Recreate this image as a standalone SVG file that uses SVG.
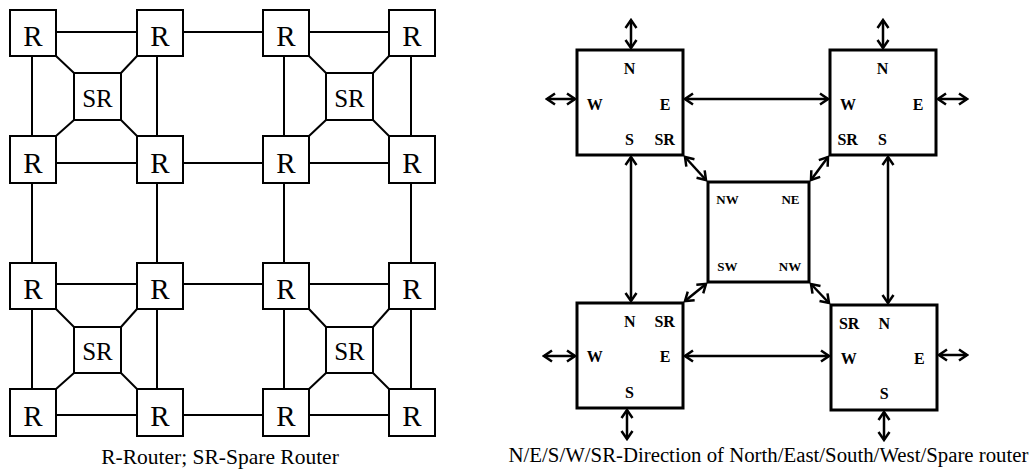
<svg xmlns="http://www.w3.org/2000/svg" width="1032" height="469" viewBox="0 0 1032 469">
<style>
.bg{fill:#fff}
.r{fill:#fff;stroke:#000;stroke-width:2}
.l{stroke:#000;stroke-width:2;fill:none}
.rt{font-family:"Liberation Serif","Times New Roman",serif;font-size:29px;text-anchor:middle;fill:#000}
.st{font-family:"Liberation Serif","Times New Roman",serif;font-size:25px;text-anchor:middle;fill:#000}
.cap{font-family:"Liberation Serif","Times New Roman",serif;font-size:21px;text-anchor:middle;fill:#000}
.b{fill:#fff;stroke:#000;stroke-width:3}
.a{stroke:#000;stroke-width:2.5;fill:none;marker-start:url(#ah);marker-end:url(#ah)}
.d{font-family:"Liberation Serif","Times New Roman",serif;font-size:16px;font-weight:bold;text-anchor:middle;fill:#000}
.dc{font-family:"Liberation Serif","Times New Roman",serif;font-size:13px;font-weight:bold;text-anchor:middle;fill:#000}
</style>
<defs>
<marker id="ah" markerUnits="userSpaceOnUse" viewBox="-12 -8 14 16" refX="0" refY="0" markerWidth="14" markerHeight="16" orient="auto-start-reverse">
<path d="M-8,-5.5 L0,0 L-8,5.5" fill="none" stroke="#000" stroke-width="2.5"/>
</marker>
</defs>
<rect class="bg" x="0" y="0" width="1032" height="469"/>

<g id="grid-connectors">
<line class="l" x1="56" y1="32" x2="137" y2="32"/>
<line class="l" x1="183" y1="32" x2="263" y2="32"/>
<line class="l" x1="309" y1="32" x2="389" y2="32"/>
<line class="l" x1="56" y1="163" x2="137" y2="163"/>
<line class="l" x1="183" y1="163" x2="263" y2="163"/>
<line class="l" x1="309" y1="163" x2="389" y2="163"/>
<line class="l" x1="56" y1="284" x2="137" y2="284"/>
<line class="l" x1="183" y1="284" x2="263" y2="284"/>
<line class="l" x1="309" y1="284" x2="389" y2="284"/>
<line class="l" x1="56" y1="415" x2="137" y2="415"/>
<line class="l" x1="183" y1="415" x2="263" y2="415"/>
<line class="l" x1="309" y1="415" x2="389" y2="415"/>
<line class="l" x1="32" y1="56" x2="32" y2="136"/>
<line class="l" x1="32" y1="183" x2="32" y2="263"/>
<line class="l" x1="32" y1="309" x2="32" y2="389"/>
<line class="l" x1="157" y1="56" x2="157" y2="136"/>
<line class="l" x1="157" y1="183" x2="157" y2="263"/>
<line class="l" x1="157" y1="309" x2="157" y2="389"/>
<line class="l" x1="284" y1="56" x2="284" y2="136"/>
<line class="l" x1="284" y1="183" x2="284" y2="263"/>
<line class="l" x1="284" y1="309" x2="284" y2="389"/>
<line class="l" x1="411" y1="56" x2="411" y2="136"/>
<line class="l" x1="411" y1="183" x2="411" y2="263"/>
<line class="l" x1="411" y1="309" x2="411" y2="389"/>
<line class="l" x1="56" y1="56" x2="74" y2="73"/>
<line class="l" x1="137" y1="56" x2="121" y2="73"/>
<line class="l" x1="56" y1="136" x2="74" y2="120"/>
<line class="l" x1="137" y1="136" x2="121" y2="120"/>
<line class="l" x1="309" y1="56" x2="326" y2="73"/>
<line class="l" x1="389" y1="56" x2="373" y2="73"/>
<line class="l" x1="309" y1="136" x2="326" y2="120"/>
<line class="l" x1="389" y1="136" x2="373" y2="120"/>
<line class="l" x1="56" y1="309" x2="74" y2="327"/>
<line class="l" x1="137" y1="309" x2="121" y2="327"/>
<line class="l" x1="56" y1="389" x2="74" y2="373"/>
<line class="l" x1="137" y1="389" x2="121" y2="373"/>
<line class="l" x1="309" y1="309" x2="326" y2="327"/>
<line class="l" x1="389" y1="309" x2="373" y2="327"/>
<line class="l" x1="309" y1="389" x2="326" y2="373"/>
<line class="l" x1="389" y1="389" x2="373" y2="373"/>
</g>

<g id="r11"><rect class="r" x="10" y="10" width="46" height="46"/><text class="rt" x="33" y="46">R</text></g>
<g id="r12"><rect class="r" x="137" y="10" width="46" height="46"/><text class="rt" x="160" y="46">R</text></g>
<g id="r13"><rect class="r" x="263" y="10" width="46" height="46"/><text class="rt" x="286" y="46">R</text></g>
<g id="r14"><rect class="r" x="389" y="10" width="46" height="46"/><text class="rt" x="412" y="46">R</text></g>
<g id="r21"><rect class="r" x="10" y="136" width="46" height="47"/><text class="rt" x="33" y="173">R</text></g>
<g id="r22"><rect class="r" x="137" y="136" width="46" height="47"/><text class="rt" x="160" y="173">R</text></g>
<g id="r23"><rect class="r" x="263" y="136" width="46" height="47"/><text class="rt" x="286" y="173">R</text></g>
<g id="r24"><rect class="r" x="389" y="136" width="46" height="47"/><text class="rt" x="412" y="173">R</text></g>
<g id="r31"><rect class="r" x="10" y="263" width="46" height="46"/><text class="rt" x="33" y="299">R</text></g>
<g id="r32"><rect class="r" x="137" y="263" width="46" height="46"/><text class="rt" x="160" y="299">R</text></g>
<g id="r33"><rect class="r" x="263" y="263" width="46" height="46"/><text class="rt" x="286" y="299">R</text></g>
<g id="r34"><rect class="r" x="389" y="263" width="46" height="46"/><text class="rt" x="412" y="299">R</text></g>
<g id="r41"><rect class="r" x="10" y="389" width="46" height="47"/><text class="rt" x="33" y="426">R</text></g>
<g id="r42"><rect class="r" x="137" y="389" width="46" height="47"/><text class="rt" x="160" y="426">R</text></g>
<g id="r43"><rect class="r" x="263" y="389" width="46" height="47"/><text class="rt" x="286" y="426">R</text></g>
<g id="r44"><rect class="r" x="389" y="389" width="46" height="47"/><text class="rt" x="412" y="426">R</text></g>

<g id="sr1"><rect class="r" x="74" y="73" width="47" height="47"/><text class="st" x="97.5" y="107">SR</text></g>
<g id="sr2"><rect class="r" x="326" y="73" width="47" height="47"/><text class="st" x="349.5" y="107">SR</text></g>
<g id="sr3"><rect class="r" x="74" y="327" width="47" height="46"/><text class="st" x="97.5" y="360">SR</text></g>
<g id="sr4"><rect class="r" x="326" y="327" width="47" height="46"/><text class="st" x="349.5" y="360">SR</text></g>

<text id="cap-left" class="cap" x="220" y="464" style="font-size:21.5px">R-Router; SR-Spare Router</text>

<g id="arrows">
<line class="a" x1="631" y1="20" x2="631" y2="48"/>
<line class="a" x1="547" y1="99" x2="575" y2="99"/>
<line class="a" x1="685" y1="99" x2="828" y2="99"/>
<line class="a" x1="631" y1="157" x2="631" y2="301"/>
<line class="a" x1="685" y1="157" x2="706" y2="180"/>
<line class="a" x1="883" y1="20" x2="883" y2="48"/>
<line class="a" x1="938" y1="99" x2="967" y2="99"/>
<line class="a" x1="888" y1="157" x2="888" y2="303"/>
<line class="a" x1="828" y1="157" x2="811" y2="180"/>
<line class="a" x1="544" y1="356" x2="575" y2="356"/>
<line class="a" x1="627" y1="410" x2="627" y2="439"/>
<line class="a" x1="685" y1="356" x2="829" y2="356"/>
<line class="a" x1="685" y1="301" x2="706" y2="284"/>
<line class="a" x1="939" y1="355" x2="967" y2="355"/>
<line class="a" x1="884" y1="412" x2="884" y2="440"/>
<line class="a" x1="829" y1="303" x2="811" y2="284"/>
</g>

<g id="tl">
<rect class="b" x="577" y="50" width="106" height="105"/>
<text class="d" x="629.5" y="74">N</text>
<text class="d" x="594.7" y="110">W</text>
<text class="d" x="665" y="110">E</text>
<text class="d" x="629.5" y="145">S</text>
<text class="d" x="664.7" y="145">SR</text>
</g>
<g id="tr">
<rect class="b" x="830" y="50" width="106" height="105"/>
<text class="d" x="882.5" y="74">N</text>
<text class="d" x="848" y="110">W</text>
<text class="d" x="918" y="110">E</text>
<text class="d" x="847.7" y="145">SR</text>
<text class="d" x="882.5" y="145">S</text>
</g>
<g id="bl">
<rect class="b" x="577" y="303" width="106" height="105"/>
<text class="d" x="629.8" y="327">N</text>
<text class="d" x="664.7" y="327">SR</text>
<text class="d" x="594.7" y="362">W</text>
<text class="d" x="665" y="362">E</text>
<text class="d" x="629.5" y="398">S</text>
</g>
<g id="br">
<rect class="b" x="831" y="305" width="106" height="105"/>
<text class="d" x="849.2" y="329">SR</text>
<text class="d" x="884.2" y="329">N</text>
<text class="d" x="848.7" y="364">W</text>
<text class="d" x="919.3" y="364">E</text>
<text class="d" x="884.2" y="399">S</text>
</g>
<g id="center">
<rect class="b" x="708" y="182" width="101" height="100"/>
<text class="dc" x="727.5" y="204">NW</text>
<text class="dc" x="790.5" y="204">NE</text>
<text class="dc" x="727.3" y="271">SW</text>
<text class="dc" x="790" y="271">NW</text>
</g>

<text id="cap-right" class="cap" x="768.5" y="462" style="font-size:20.8px">N/E/S/W/SR-Direction of North/East/South/West/Spare router</text>
</svg>
